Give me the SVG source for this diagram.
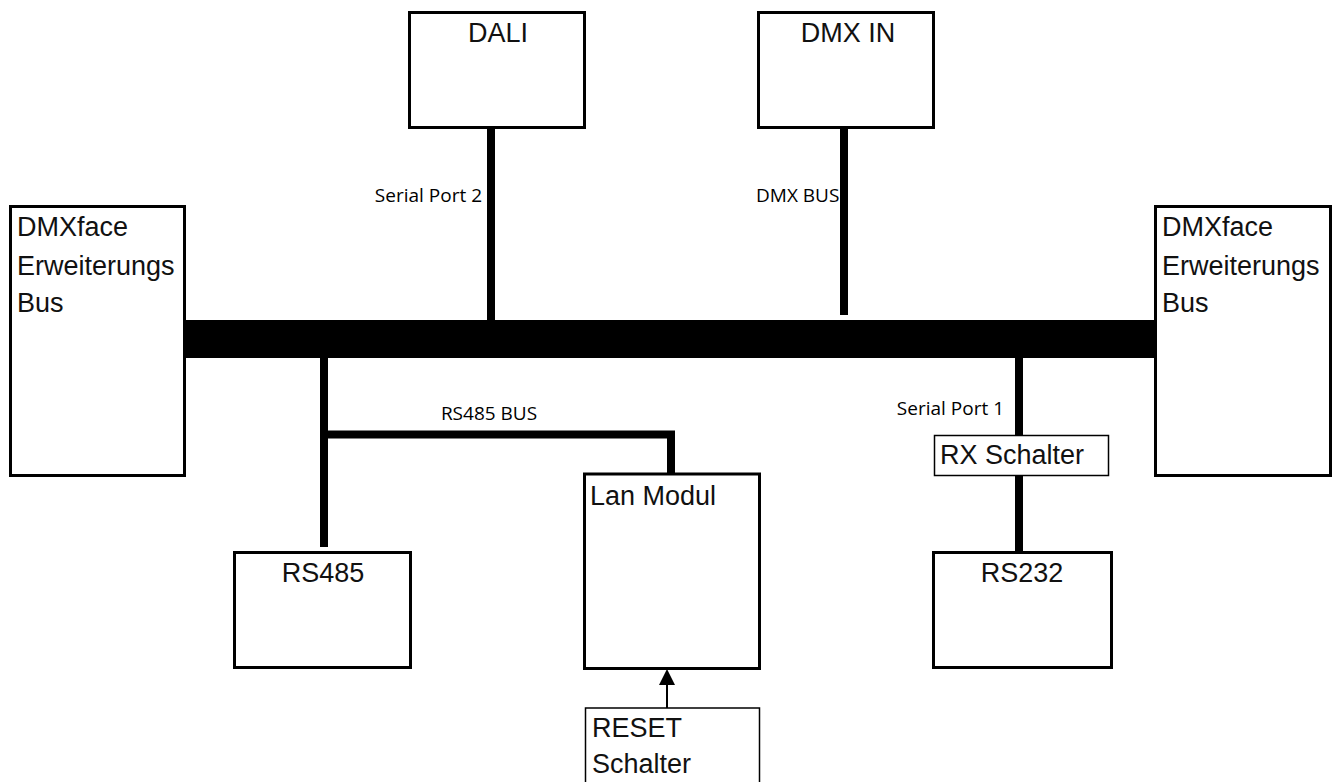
<svg xmlns="http://www.w3.org/2000/svg" width="1336" height="782" viewBox="0 0 1336 782">
  <style>
    .box { fill: #fff; stroke: #000; stroke-width: 3; }
    .thin { fill: #fff; stroke: #000; stroke-width: 1.5; }
    .wire { stroke: #000; stroke-width: 8; fill: none; }
    .nt { font-family: "Liberation Sans", Arial, sans-serif; font-size: 27px; fill: #111; }
    .lbl { font-family: "Open Sans", "Noto Sans", sans-serif; font-size: 19px; fill: #000; }
  </style>
  <defs>
    <marker id="arr" markerWidth="16" markerHeight="16" refX="14" refY="8" orient="auto" markerUnits="userSpaceOnUse">
      <path d="M0,0 L16,8 L0,16 z" fill="#000"/>
    </marker>
  </defs>
  <rect width="1336" height="782" fill="#fff"/>

  <g id="connectors">
    <rect id="bus" x="185" y="320" width="971" height="38" fill="#000"/>
    <line class="wire" x1="491" y1="128" x2="491" y2="321"/>
    <line class="wire" x1="844" y1="128" x2="844" y2="315"/>
    <polyline class="wire" points="324,357 324,547"/>
    <polyline class="wire" points="324,434.5 671,434.5 671,474"/>
    <line class="wire" x1="1019" y1="357" x2="1019" y2="553"/>
    <line stroke="#000" stroke-width="2" x1="667" y1="708" x2="667" y2="671" marker-end="url(#arr)"/>
    <text class="lbl" x="482" y="202" text-anchor="end">Serial Port 2</text>
    <text class="lbl" x="756" y="202">DMX BUS</text>
    <text class="lbl" x="489" y="420" text-anchor="middle">RS485 BUS</text>
    <text class="lbl" x="1004" y="415" text-anchor="end">Serial Port 1</text>
  </g>

  <g id="ext-left">
    <rect class="box" x="10.5" y="206.5" width="174" height="269"/>
    <text class="nt" x="17" y="236">DMXface</text>
    <text class="nt" x="17" y="275">Erweiterungs</text>
    <text class="nt" x="17" y="312">Bus</text>
  </g>
  <g id="ext-right">
    <rect class="box" x="1155.5" y="206.5" width="175" height="269"/>
    <text class="nt" x="1162" y="236">DMXface</text>
    <text class="nt" x="1162" y="275">Erweiterungs</text>
    <text class="nt" x="1162" y="312">Bus</text>
  </g>
  <g id="dali">
    <rect class="box" x="409.5" y="12.5" width="175" height="115"/>
    <text class="nt" x="498" y="42" text-anchor="middle">DALI</text>
  </g>
  <g id="dmx-in">
    <rect class="box" x="758.5" y="12.5" width="175" height="115"/>
    <text class="nt" x="848" y="42" text-anchor="middle">DMX IN</text>
  </g>
  <g id="rs485">
    <rect class="box" x="234.5" y="552.5" width="176" height="115"/>
    <text class="nt" x="323" y="582" text-anchor="middle">RS485</text>
  </g>
  <g id="lan">
    <rect class="box" x="584.5" y="474" width="175" height="194.5"/>
    <text class="nt" x="590" y="505">Lan Modul</text>
  </g>
  <g id="reset">
    <rect class="thin" x="585.5" y="708" width="174" height="90"/>
    <text class="nt" x="592" y="737">RESET</text>
    <text class="nt" x="592" y="773">Schalter</text>
  </g>
  <g id="rx">
    <rect class="thin" x="934.5" y="435.5" width="174" height="40"/>
    <text class="nt" x="940" y="464">RX Schalter</text>
  </g>
  <g id="rs232">
    <rect class="box" x="933.5" y="552.5" width="178" height="115"/>
    <text class="nt" x="1022" y="582" text-anchor="middle">RS232</text>
  </g>
</svg>
